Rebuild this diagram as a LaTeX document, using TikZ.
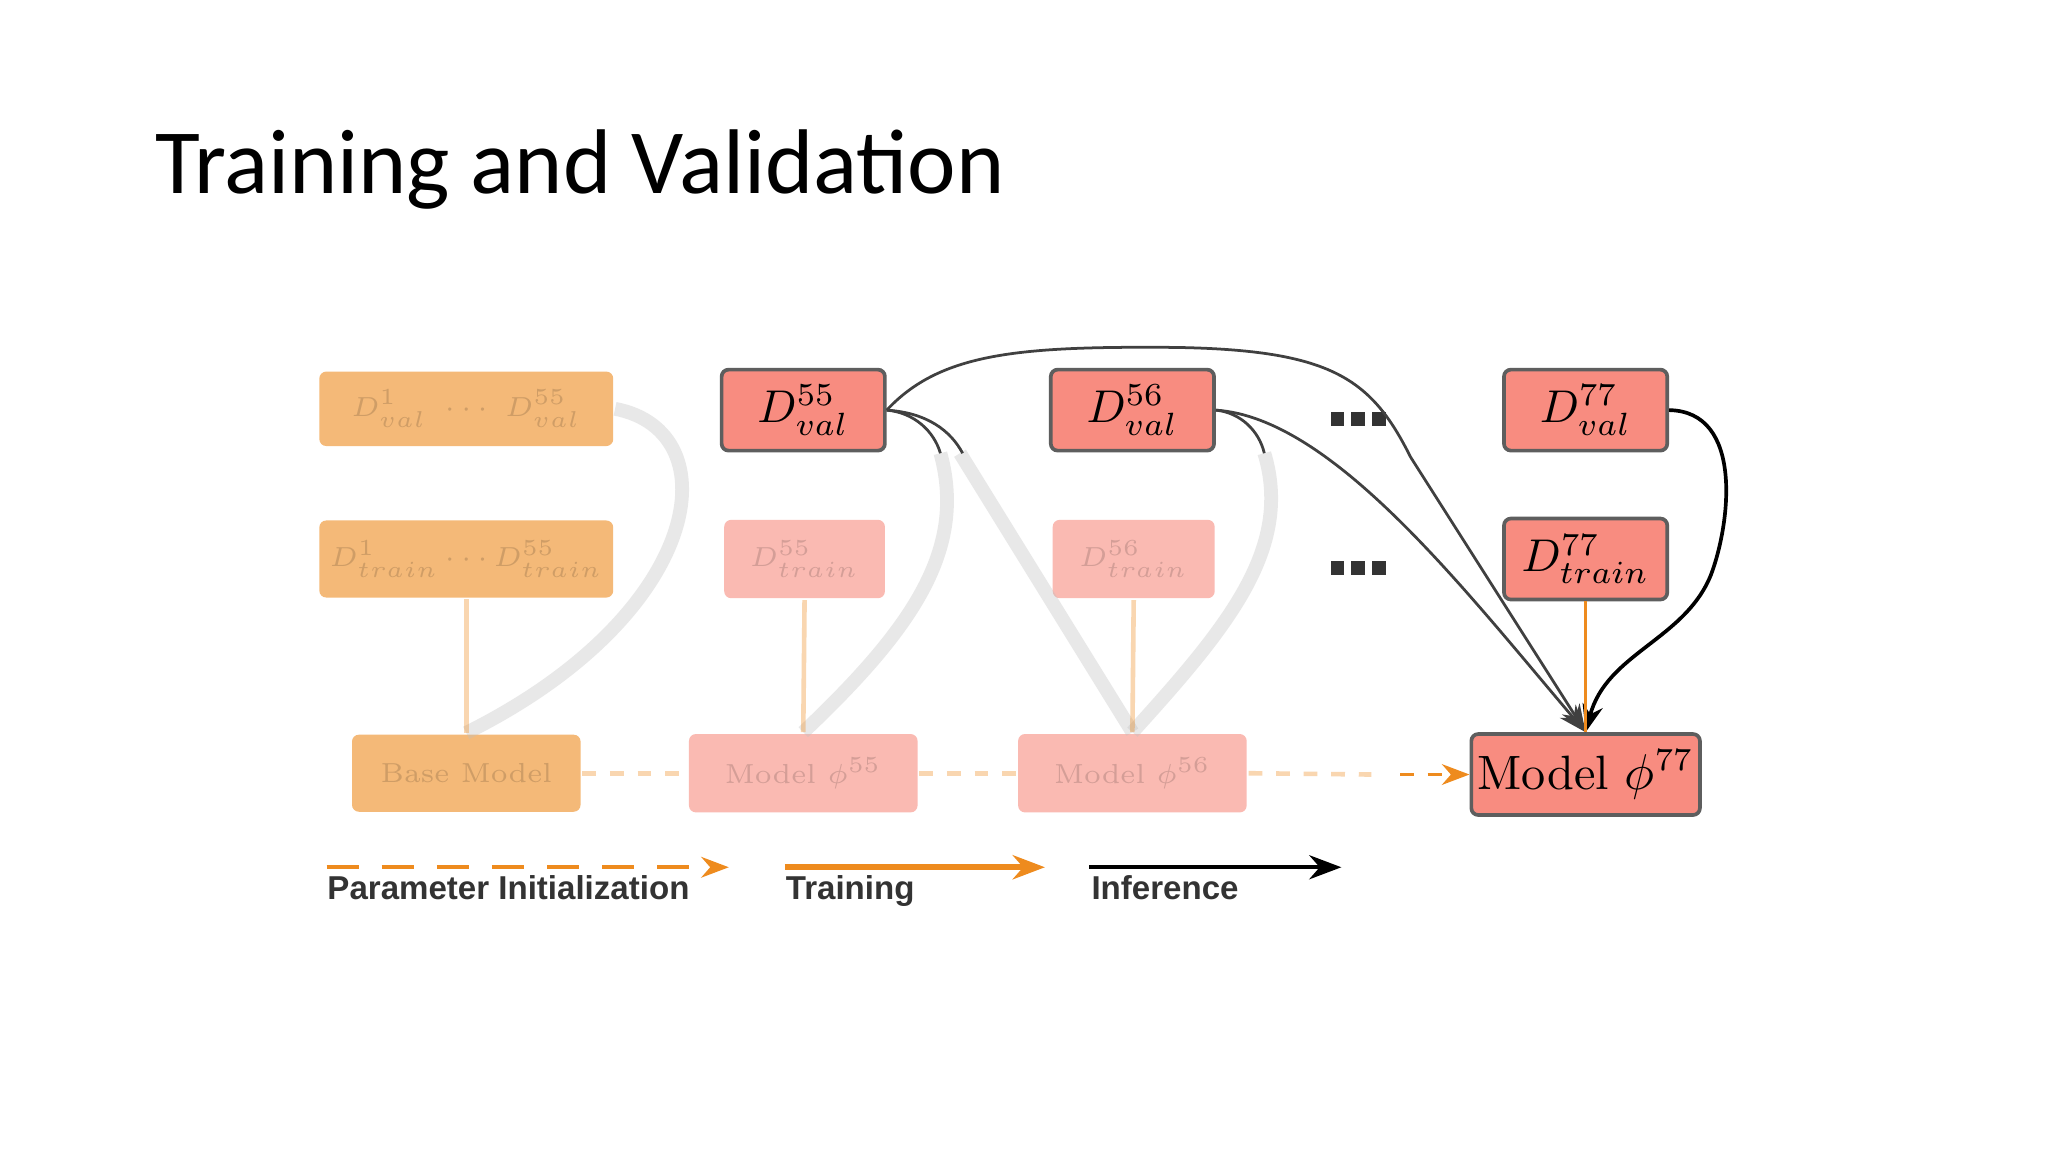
\documentclass[tikz,border=0pt]{standalone}
\usepackage{fontspec}
\newfontfamily\titlefont{Carlito}
\newfontfamily\legfont{Liberation Sans}
\usetikzlibrary{arrows.meta}
\definecolor{salmon}{HTML}{F88C80}
\definecolor{orng}{HTML}{EE8B1E}
\definecolor{bord}{HTML}{5E5E5E}
\begin{document}
\begin{tikzpicture}[x=0.01cm,y=-0.01cm,
  box/.style={draw=bord,line width=0.8pt,fill=salmon,rounded corners=1.5pt,inner sep=0pt,font=\fontsize{10}{11}\selectfont},
  blurbox/.style={box,draw=none,opacity=0.6,text opacity=0.15,font=\fontsize{6}{7}\selectfont},
  inf/.style={draw=black!75,line width=0.6pt,-{Stealth[length=6pt]}},
  dot/.style={fill=black!80,minimum size=3pt,inner sep=0pt},
  leg/.style={font=\legfont\bfseries\fontsize{7.2}{9}\selectfont,text=black!80,anchor=north west,inner sep=0pt}]
\useasboundingbox (0,0) rectangle (1568,882);
\fill[white] (0,0) rectangle (1568,882);
\node[anchor=west,inner sep=0pt,font=\titlefont\fontsize{20}{24}\selectfont] (title) at (118,130) {Training and Validation};
% blurred part
\node[blurbox,fill=orng,minimum width=225*0.01cm,minimum height=57*0.01cm] (ov) at (357,313) {$D^{1}_{val}\ \cdots\ D^{55}_{val}$};
\node[blurbox,fill=orng,minimum width=225*0.01cm,minimum height=59*0.01cm] (ot) at (357,428) {$D^{1}_{train}\cdots D^{55}_{train}$};
\node[blurbox,fill=orng,minimum width=175*0.01cm,minimum height=59*0.01cm] (base) at (357,592) {Base Model};
\node[blurbox,minimum width=123*0.01cm,minimum height=60*0.01cm] (t55) at (616,428) {$D^{55}_{train}$};
\node[blurbox,minimum width=124*0.01cm,minimum height=60*0.01cm] (t56) at (868,428) {$D^{56}_{train}$};
\node[blurbox,minimum width=175*0.01cm,minimum height=60*0.01cm] (m55) at (615,592) {Model $\phi^{55}$};
\node[blurbox,minimum width=175*0.01cm,minimum height=60*0.01cm] (m56) at (867,592) {Model $\phi^{56}$};
\begin{scope}[opacity=0.35,line width=3pt]
\draw[black!25] (ov.east) .. controls (560,330) and (540,470) .. (base.north);
\draw[black!25] (720,347) .. controls (740,420) and (700,480) .. (m55.north);
\draw[black!25] (735,347) -- (m56.north);
\draw[black!25] (968,347) .. controls (990,420) and (940,480) .. (m56.north);
\draw[orng,line width=1pt] (ot.south) -- (base.north);
\draw[orng,line width=1pt] (t55.south) -- (m55.north);
\draw[orng,line width=1pt] (t56.south) -- (m56.north);
\draw[orng,dashed,line width=1pt] (base.east) -- (m55.west);
\draw[orng,dashed,line width=1pt] (m55.east) -- (m56.west);
\draw[orng,dashed,line width=1pt] (m56.east) -- (1050,593);
\end{scope}
% sharp part
\node[box,minimum width=125*0.01cm,minimum height=62*0.01cm] (v55) at (615,314) {$D^{55}_{val}$};
\node[box,minimum width=125*0.01cm,minimum height=62*0.01cm] (v56) at (867,314) {$D^{56}_{val}$};
\node[box,minimum width=125*0.01cm,minimum height=62*0.01cm] (v77) at (1214,314) {$D^{77}_{val}$};
\node[box,minimum width=125*0.01cm,minimum height=62*0.01cm] (t77) at (1214,428) {$D^{77}_{train}$};
\node[box,minimum width=175*0.01cm,minimum height=62*0.01cm,font=\fontsize{10.5}{12}\selectfont] (m77) at (1214,593) {Model $\phi^{77}$};
\foreach \yy/\nm in {321/a,435/b}{
  \node[dot] (d\nm1) at (1024,\yy) {};
  \node[dot] (d\nm2) at (1040,\yy) {};
  \node[dot] (d\nm3) at (1056,\yy) {};
}
\coordinate (c1) at (720,347);
\coordinate (c2) at (737,347);
\coordinate (c3) at (968,347);
\draw[black!75,line width=0.6pt] (v55.east) .. controls (700,316) and (715,330) .. (c1);
\draw[black!75,line width=0.6pt] (v55.east) .. controls (710,316) and (728,330) .. (c2);
\draw[black!75,line width=0.6pt] (v56.east) .. controls (950,316) and (964,330) .. (c3);
\draw[inf] (v55.east) .. controls (720,270) and (780,265) .. (900,266) .. controls (1020,268) and (1050,290) .. (1080,350) -- (m77.north);
\draw[inf] (v56.east) .. controls (1020,320) and (1120,450) .. (m77.north);
\draw[inf,black,line width=0.8pt] (v77.east) .. controls (1335,315) and (1325,400) .. (1310,440) .. controls (1290,490) and (1230,500) .. (m77.north);
\draw[orng,line width=0.8pt] (t77.south) -- (m77.north);
\coordinate (ds) at (1072,593);
\draw[orng,dashed,line width=0.8pt,-{Stealth[length=6pt]}] (ds) -- (m77.west);
% legend
\coordinate (l1a) at (250,664); \coordinate (l1b) at (558,664);
\coordinate (l2a) at (601,664); \coordinate (l2b) at (800,664);
\coordinate (l3a) at (834,664); \coordinate (l3b) at (1027,664);
\draw[orng,line width=0.8pt,dash pattern=on 7pt off 5pt,-{Stealth[length=6pt]}] (l1a) -- (l1b);
\draw[orng,line width=1.3pt,-{Stealth[length=7pt]}] (l2a) -- (l2b);
\draw[black,line width=0.8pt,-{Stealth[length=7pt]}] (l3a) -- (l3b);
\node[leg] (t1) at (250,670) {Parameter Initialization};
\node[leg] (t2) at (601,670) {Training};
\node[leg] (t3) at (835,670) {Inference};
\end{tikzpicture}
\end{document}
